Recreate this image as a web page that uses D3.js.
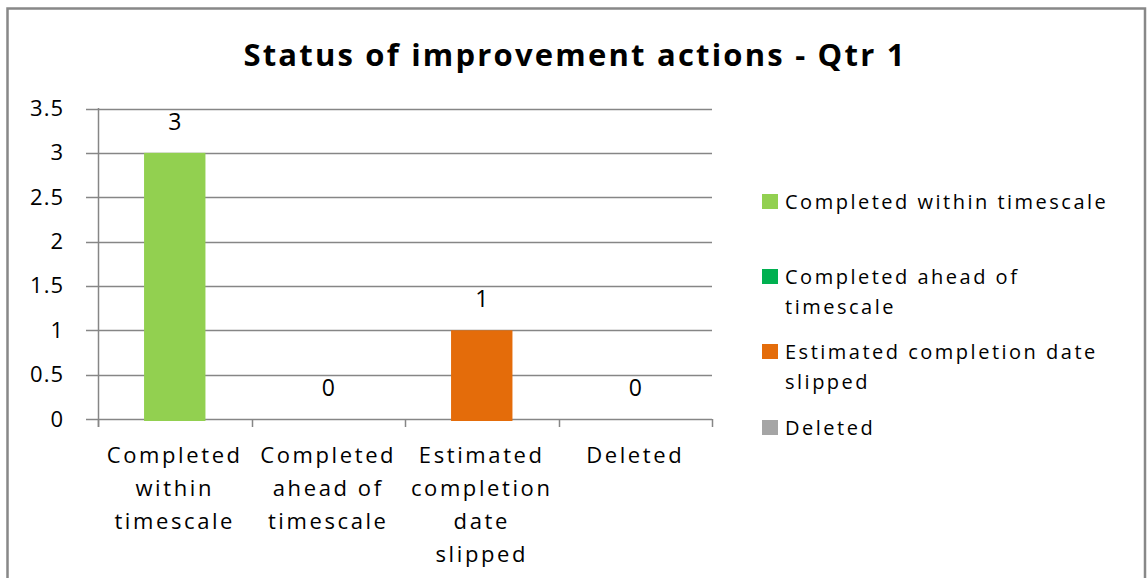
<!DOCTYPE html>
<html>
<head>
<meta charset="utf-8">
<script src="https://cdn.jsdelivr.net/npm/d3@7"></script>
<style>
  body { margin: 0; background: #fff; }
  text { fill: #000; }
</style>
</head>
<body>
<div id="chart"></div>
<script>
// chart data
var categories = ["Completed within timescale", "Completed ahead of timescale", "Estimated completion date slipped", "Deleted"];
var catLines = [["Completed", "within", "timescale"], ["Completed", "ahead of", "timescale"], ["Estimated", "completion", "date", "slipped"], ["Deleted"]];
var values = [3, 0, 1, 0];
var colors = ["#92d050", "#00b050", "#e46c0a", "#a5a5a5"];
var legendLines = [["Completed within timescale"], ["Completed ahead of", "timescale"], ["Estimated completion date", "slipped"], ["Deleted"]];
var yTicks = [0, 0.5, 1, 1.5, 2, 2.5, 3, 3.5];

var w = 1147, h = 578;

var svg = d3.select("#chart")
    .append("svg")
    .attr("width", w)
    .attr("height", h);

// outer frame (no bottom edge visible)
svg.append("path")
    .attr("d", "M7.5,578 L7.5,8.5 L1145,8.5 L1145,578")
    .attr("fill", "none")
    .attr("stroke", "#888")
    .attr("stroke-width", 2.5);

// title
svg.append("text")
    .attr("x", 575)
    .attr("y", 66)
    .attr("text-anchor", "middle")
    .style("font-family", "'Open Sans', sans-serif")
    .style("font-weight", "bold")
    .style("font-size", "31px")
    .style("letter-spacing", "2.2px")
    .text("Status of improvement actions - Qtr 1");

// scales
var xScale = d3.scaleBand()
    .domain(categories)
    .range([98, 712])
    .paddingInner(0.6)
    .paddingOuter(0.3);
var xStep = d3.scaleBand().domain(categories).range([98, 712]);
var yScale = d3.scaleLinear()
    .domain([0, 3.5])
    .range([419, 108.5]);

// gridlines
svg.append("g")
    .selectAll("line")
    .data(yTicks)
    .enter()
    .append("line")
    .attr("x1", 86)
    .attr("x2", 712)
    .attr("y1", function(d){ return Math.round(yScale(d)) + 0.5 })
    .attr("y2", function(d){ return Math.round(yScale(d)) + 0.5 })
    .attr("stroke", "#868686")
    .attr("stroke-width", 1.5);

// y axis labels
var yAxis = d3.axisLeft(yScale).tickValues(yTicks).tickFormat(d3.format("")).tickSize(0).tickPadding(0);
var ya = svg.append("g")
    .attr("transform", "translate(64,0)")
    .call(yAxis);
ya.select(".domain").remove();
ya.selectAll("text")
    .style("font-family", "'Open Sans', sans-serif")
    .style("font-size", "22px")
    .style("letter-spacing", "1px")
    .attr("fill", "#000");

// bars
svg.append("g")
    .selectAll("rect")
    .data(values)
    .enter()
    .append("rect")
    .attr("x", function(d, i){ return xScale(categories[i]) })
    .attr("width", xScale.bandwidth())
    .attr("y", function(d){ return yScale(d) })
    .attr("height", function(d){ return d > 0 ? yScale(0) - yScale(d) + 2 : 0 })
    .attr("fill", function(d, i){ return colors[i] });

// y axis line
svg.append("line")
    .attr("x1", 98.5).attr("x2", 98.5)
    .attr("y1", 108).attr("y2", 427)
    .attr("stroke", "#868686")
    .attr("stroke-width", 1.5);

// category ticks
var xTicks = categories.map(function(c){ return xStep(c) }).concat([712]);
svg.append("g")
    .selectAll("line")
    .data(xTicks)
    .enter()
    .append("line")
    .attr("x1", function(d){ return Math.round(d) + 0.5 })
    .attr("x2", function(d){ return Math.round(d) + 0.5 })
    .attr("y1", 419)
    .attr("y2", 427)
    .attr("stroke", "#868686")
    .attr("stroke-width", 1.5);

// value labels
svg.append("g")
    .selectAll("text")
    .data(values)
    .enter()
    .append("text")
    .attr("x", function(d, i){ return xScale(categories[i]) + xScale.bandwidth() / 2 })
    .attr("y", function(d){ return yScale(d) - 23 })
    .attr("text-anchor", "middle")
    .style("font-family", "'Open Sans', sans-serif")
    .style("font-size", "23px")
    .text(function(d){ return d });

// category labels
catLines.forEach(function(lines, i) {
    var cx = xStep(categories[i]) + xStep.bandwidth() / 2;
    lines.forEach(function(line, j) {
        svg.append("text")
            .attr("x", cx)
            .attr("y", 463 + j * 33)
            .attr("text-anchor", "middle")
            .style("font-family", "'Open Sans', sans-serif")
            .style("font-size", "22px")
            .style("letter-spacing", "2.6px")
            .text(line);
    });
});

// legend
var legendY = [202, 277, 352, 428];
legendLines.forEach(function(lines, i) {
    svg.append("rect")
        .attr("x", 762)
        .attr("y", legendY[i] - 8)
        .attr("width", 16)
        .attr("height", 15)
        .attr("fill", colors[i]);
    lines.forEach(function(line, j) {
        svg.append("text")
            .attr("x", 785)
            .attr("y", legendY[i] + 7 + j * 30)
            .style("font-family", "'Open Sans', sans-serif")
            .style("font-size", "20px")
            .style("letter-spacing", "2.5px")
            .text(line);
    });
});
</script>
</body>
</html>
